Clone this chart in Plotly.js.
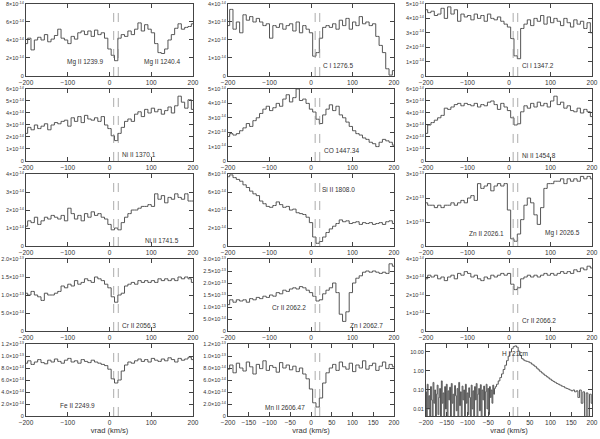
<!DOCTYPE html>
<html><head><meta charset="utf-8">
<script src="https://cdn.plot.ly/plotly-3.0.1.min.js"></script>
<style>html,body{margin:0;padding:0;background:#fff}#chart{width:600px;height:439px}</style>
</head><body><div id="chart"></div>
<script>
// velocity bins (km/s)
const vel = [-200,-192,-184,-176,-168,-160,-152,-144,-136,-128,-120,-112,-104,-96,-88,-80,-72,-64,-56,-48,-40,-32,-24,-16,-8,0,8,16,24,32,40,48,56,64,72,80,88,96,104,112,120,128,136,144,152,160,168,176,184,192,200];

const fluxMgII1239 = [3.6,4.2,2.9,4.0,4.3,4.0,4.6,3.8,4.1,4.5,5.2,4.2,4.0,3.6,4.4,4.1,4.8,5.0,4.6,5.0,4.4,5.1,4.6,4.8,4.2,3.0,2.3,1.7,4.2,4.6,4.4,5.0,4.6,5.2,5.9,5.0,5.7,5.2,4.8,3.6,2.6,2.5,3.0,4.0,4.6,5.3,5.8,5.2,5.4,5.5,5.8];
const fluxCI1276 = [2.8,3.7,2.6,3.0,2.4,3.4,3.1,3.3,3.0,3.2,3.0,2.8,2.9,2.1,2.8,2.7,2.9,2.6,2.8,2.9,2.5,3.0,2.4,2.8,2.6,2.4,1.1,1.3,2.1,2.7,2.8,2.7,2.9,2.6,3.1,2.8,3.2,2.6,3.0,2.8,3.3,2.9,3.0,2.8,2.9,2.2,1.7,1.3,0.4,0.05,0.3];
const fluxClI1347 = [4.6,4.4,4.5,4.2,4.3,4.7,4.0,4.8,4.3,4.6,3.8,4.3,4.1,4.2,3.9,4.3,4.0,4.2,3.8,4.3,4.0,3.9,4.1,3.8,3.6,3.4,2.6,1.4,1.2,3.3,3.6,3.9,3.5,4.0,3.8,4.2,3.6,4.1,3.7,4.0,3.8,3.5,4.0,3.7,3.4,3.9,3.6,3.8,3.3,3.7,3.0];
const fluxNiII1370 = [2.3,2.8,2.6,3.0,2.7,2.9,3.1,2.6,3.0,3.2,3.1,3.3,3.4,2.9,3.6,3.3,3.7,3.2,3.8,3.5,3.4,3.6,3.3,3.7,3.0,2.7,2.1,1.7,2.3,2.8,3.3,3.5,3.3,3.9,4.1,3.7,4.3,4.0,4.4,4.1,4.3,3.9,4.2,4.5,4.0,4.6,5.4,4.9,4.4,5.1,4.3];
const fluxCO1447 = [1.7,1.9,1.8,1.9,2.1,2.3,2.6,2.4,2.8,3.0,3.3,3.6,3.8,3.5,3.7,4.0,3.8,4.3,4.6,4.1,4.4,5.0,4.2,4.3,4.0,3.6,3.4,2.9,2.6,3.2,3.6,3.9,3.5,3.8,3.2,3.0,2.7,2.4,2.1,1.9,1.8,1.6,1.5,1.3,1.2,1.0,1.3,1.5,1.4,1.3,1.1];
const fluxNiII1454 = [2.3,3.0,3.2,3.4,3.6,3.8,4.4,4.3,4.5,4.7,4.8,4.6,4.8,4.7,4.6,4.8,4.5,4.7,4.6,4.9,5.0,4.7,4.3,4.8,4.5,4.2,3.6,3.0,3.1,4.1,4.6,4.4,4.8,4.5,4.9,4.6,4.8,4.5,5.0,5.4,4.7,4.9,4.4,4.6,4.2,4.1,4.4,4.0,4.3,4.1,3.7];
const fluxNiII1741 = [1.1,1.4,1.3,1.6,1.2,1.4,1.6,1.5,1.7,1.6,1.5,1.7,1.4,2.1,1.8,1.5,1.7,1.4,1.8,1.6,1.9,1.7,1.8,1.6,1.5,1.2,0.9,1.0,0.9,1.3,1.6,1.8,2.0,2.0,2.1,2.2,2.2,2.3,2.2,2.9,2.6,2.8,2.4,2.7,2.6,2.9,2.7,2.6,2.9,2.5,2.5];
const fluxSiII1808 = [7.7,7.9,7.6,7.4,7.2,6.8,6.5,6.1,5.8,5.6,5.0,4.7,4.4,4.3,4.5,4.9,4.6,4.3,4.4,4.0,4.1,3.7,3.6,3.5,3.2,2.6,1.0,0.3,0.5,1.0,1.5,1.9,2.2,2.5,2.9,2.7,2.8,2.5,2.6,2.7,2.4,2.6,2.5,2.6,2.4,2.5,2.6,2.4,2.7,2.8,2.5];
const fluxZnII2026 = [1.8,1.7,1.7,1.6,1.7,1.6,1.7,1.7,1.8,1.7,1.8,1.9,1.8,2.0,2.1,1.9,2.6,2.4,2.5,2.6,2.3,2.5,2.6,2.5,2.6,1.5,0.3,0.2,0.5,1.1,1.7,2.0,1.8,1.3,0.9,1.6,2.4,2.6,2.6,2.7,2.7,2.8,2.6,2.8,2.7,2.8,2.7,2.9,2.8,2.9,2.8];
const fluxCrII2056 = [1.05,1.0,1.1,1.0,0.95,0.85,1.05,1.0,1.0,1.05,1.1,1.25,1.2,1.3,1.25,1.4,1.3,1.35,1.45,1.4,1.35,1.5,1.45,1.4,1.3,1.2,0.95,0.8,1.0,1.05,1.25,1.3,1.35,1.3,1.4,1.35,1.4,1.35,1.4,1.35,1.45,1.4,1.45,1.4,1.45,1.4,1.5,1.45,1.5,1.45,1.35];
const fluxCrII2062 = [1.1,1.3,1.2,1.3,1.25,1.3,1.2,1.35,1.3,1.4,1.35,1.45,1.4,1.5,1.45,1.6,1.55,1.7,1.65,1.75,1.8,1.75,1.85,1.8,1.7,1.6,1.45,1.25,1.3,1.55,1.7,1.8,2.0,1.6,0.7,0.4,0.8,1.6,2.0,2.2,2.3,2.45,2.5,2.45,2.5,2.45,2.4,2.45,2.4,2.8,2.7];
const fluxCrII2066 = [2.9,3.1,3.0,3.1,2.9,3.0,2.8,3.0,3.1,2.9,3.2,3.1,3.3,3.2,3.0,3.1,2.9,2.8,3.0,2.9,3.1,3.0,3.1,3.2,3.1,3.2,2.6,2.3,2.4,2.9,3.0,3.1,3.0,3.1,3.0,3.1,3.2,3.1,3.2,3.1,3.2,3.3,3.2,3.3,3.2,3.4,3.3,3.5,3.4,3.6,3.5];
const fluxFeII2249 = [0.88,0.92,0.86,0.90,0.94,0.89,0.87,0.93,0.90,0.95,0.91,0.88,0.93,0.96,0.90,0.92,0.88,0.94,0.91,0.89,0.93,0.90,0.88,0.86,0.84,0.78,0.62,0.55,0.60,0.75,0.85,0.90,0.88,0.92,0.95,0.91,0.94,0.90,0.96,0.93,0.91,0.95,0.92,0.97,0.94,0.90,0.96,0.93,0.95,0.98,0.94];
const fluxMnII2606 = [0.78,0.85,0.72,0.88,0.80,0.75,0.90,0.82,0.70,0.86,0.79,0.92,0.76,0.84,0.81,0.73,0.89,0.80,0.85,0.77,0.83,0.74,0.80,0.70,0.62,0.45,0.22,0.15,0.30,0.55,0.72,0.80,0.86,0.76,0.90,0.82,0.78,0.88,0.74,0.85,0.80,0.92,0.78,0.84,0.88,0.76,0.83,0.90,0.79,0.86,0.82];

// H I 21cm profile (2 km/s in the noisy wing, 4 km/s elsewhere)
const velHI = [-200,-198,-196,-194,-192,-190,-188,-186,-184,-182,
  -180,-178,-176,-174,-172,-170,-168,-166,-164,-162,
  -160,-158,-156,-154,-152,-150,-148,-146,-144,-142,
  -140,-138,-136,-134,-132,-130,-128,-126,-124,-122,
  -120,-118,-116,-114,-112,-110,-108,-106,-104,-102,
  -100,-98,-96,-94,-92,-90,-88,-86,-84,-82,
  -80,-78,-76,-74,-72,-70,-68,-66,-64,-62,
  -60,-58,-56,-54,-52,-50,-48,-46,-44,-42,
  -40,-38,-36,-34,-32,
  -28,-24,-20,-16,-12,-8,-4,0,4,8,12,16,20,24,28,32,36,40,44,48,52,56,60,64,68,72,76,80,84,88,92,96,100,104,108,112,116,120,124,128,132,136,140,144,148,152,156,160,164,168,172,176,180,184,188,192,196,200];
const tbHI = [0.08,0.003,0.2,0.01,0.05,0.003,0.15,0.03,0.004,0.25,0.02,0.1,0.003,0.06,0.18,0.005,0.04,0.12,0.003,0.3,
  0.02,0.07,0.004,0.15,0.01,0.2,0.003,0.09,0.03,0.14,0.004,0.22,0.02,0.06,0.003,0.17,0.05,0.008,0.12,0.003,
  0.25,0.015,0.08,0.004,0.16,0.03,0.1,0.003,0.2,0.02,0.07,0.005,0.13,0.04,0.003,0.18,0.01,0.09,0.004,0.15,
  0.03,0.22,0.003,0.06,0.12,0.008,0.19,0.004,0.1,0.03,0.16,0.003,0.08,0.2,0.01,0.12,0.005,0.15,0.04,0.1,
  0.02,0.18,0.06,0.12,0.15,
  0.2,0.3,0.45,0.7,1.2,2.0,3.5,6.0,
  10,15,19,21,18,11,6.5,4.5,3.8,3.4,3.2,3.0,2.7,2.3,2.0,1.7,1.4,1.15,0.95,0.8,0.68,0.58,0.5,0.43,0.37,0.32,0.28,0.25,0.22,0.2,0.18,0.16,0.15,0.13,0.12,0.11,0.1,0.09,0.1,0.08,0.09,0.04,0.1,0.02,0.08,0.004,0.07,0.003,0.06,0.02];

// component velocities marked by dashed lines
const compVel = [10, 21];

// tick labels
const tick8 = ['0','2×10<sup>-14</sup>','4×10<sup>-14</sup>','6×10<sup>-14</sup>','8×10<sup>-14</sup>'];
const tick4 = ['0','1×10<sup>-14</sup>','2×10<sup>-14</sup>','3×10<sup>-14</sup>','4×10<sup>-14</sup>'];
const tick5 = ['0','1×10<sup>-14</sup>','2×10<sup>-14</sup>','3×10<sup>-14</sup>','4×10<sup>-14</sup>','5×10<sup>-14</sup>'];
const tick6 = ['0','1×10<sup>-14</sup>','2×10<sup>-14</sup>','3×10<sup>-14</sup>','4×10<sup>-14</sup>','5×10<sup>-14</sup>','6×10<sup>-14</sup>'];
const tick3 = ['0','1×10<sup>-13</sup>','2×10<sup>-13</sup>','3×10<sup>-13</sup>'];
const tick2h = ['0','5.0×10<sup>-14</sup>','1.0×10<sup>-13</sup>','1.5×10<sup>-13</sup>','2.0×10<sup>-13</sup>'];
const tick3h = ['0','5.0×10<sup>-14</sup>','1.0×10<sup>-13</sup>','1.5×10<sup>-13</sup>','2.0×10<sup>-13</sup>','2.5×10<sup>-13</sup>','3.0×10<sup>-13</sup>'];
const tick12 = ['0','2.0×10<sup>-14</sup>','4.0×10<sup>-14</sup>','6.0×10<sup>-14</sup>','8.0×10<sup>-14</sup>','1.0×10<sup>-13</sup>','1.2×10<sup>-13</sup>'];
const tickHI = ['0.01','0.10','1.00','10.00'];

const S = '\u00a0';
const panels = [
  {y: fluxMgII1239, range:[0,8], tv:[0,2,4,6,8], tt:tick8, lab:[['Mg'+S+'II'+S+'1239.9',-106,1.55],['Mg'+S+'II'+S+'1240.4',78,1.55]]},
  {y: fluxCI1276, range:[0,4], tv:[0,1,2,3,4], tt:tick4, lab:[['C'+S+'I'+S+'1276.5',24,0.61]]},
  {y: fluxClI1347, range:[0,5], tv:[0,1,2,3,4,5], tt:tick5, lab:[['Cl'+S+'I'+S+'1347.2',27,0.72]]},
  {y: fluxNiII1370, range:[0,6], tv:[0,1,2,3,4,5,6], tt:tick6, lab:[['Ni'+S+'II'+S+'1370.1',25,0.5]]},
  {y: fluxCO1447, range:[0,5], tv:[0,1,2,3,4,5], tt:tick5, lab:[['CO'+S+'1447.34',27,0.72]]},
  {y: fluxNiII1454, range:[0,6], tv:[0,1,2,3,4,5,6], tt:tick6, lab:[['Ni'+S+'II'+S+'1454.8',27,0.42]]},
  {y: fluxNiII1741, range:[0,4], tv:[0,1,2,3,4], tt:tick4, lab:[['Ni'+S+'II'+S+'1741.5',80,0.33]]},
  {y: fluxSiII1808, range:[0,8], tv:[0,2,4,6,8], tt:tick8, lab:[['Si'+S+'II'+S+'1808.0',22,6.33]]},
  {y: fluxZnII2026, range:[0,3], tv:[0,1,2,3], tt:tick3, lab:[['Zn'+S+'II'+S+'2026.1',-101,0.54],['Mg'+S+'I'+S+'2026.5',82,0.54]]},
  {y: fluxCrII2056, range:[0,2], tv:[0,0.5,1,1.5,2], tt:tick2h, lab:[['Cr'+S+'II'+S+'2056.3',25,0.15]]},
  {y: fluxCrII2062, range:[0,3], tv:[0,0.5,1,1.5,2,2.5,3], tt:tick3h, lab:[['Cr'+S+'II'+S+'2062.2',-99,0.96],['Zn'+S+'I'+S+'2062.7',89,0.25]]},
  {y: fluxCrII2066, range:[0,4], tv:[0,1,2,3,4], tt:tick4, lab:[['Cr'+S+'II'+S+'2066.2',26,0.61]]},
  {y: fluxFeII2249, range:[0,1.2], tv:[0,0.2,0.4,0.6,0.8,1.0,1.2], tt:tick12, lab:[['Fe'+S+'II'+S+'2249.9',-123,0.18]]},
  {y: fluxMnII2606, range:[0,1.2], tv:[0,0.2,0.4,0.6,0.8,1.0,1.2], tt:tick12, lab:[['Mn'+S+'II'+S+'2606.47',-116,0.15]]},
  {x: velHI, y: tbHI, log:true, range:[-2.37,1.42], tv:[0.01,0.1,1,10], tt:tickHI, lab:[['H'+S+'I'+S+'21cm',-22,8]]}
];

const colDomains = [[0.0433,0.3217],[0.38,0.6567],[0.71,0.9867]];
const rowDomains = [[0.8269,0.9909],[0.6333,0.7973],[0.4396,0.6036],[0.246,0.41],[0.0524,0.2164]];

const FONT = 'Liberation Sans, Arial, sans-serif';
const data = [], annotations = [], shapes = [];
const layout = {
  width:600, height:439, margin:{l:0,r:0,t:0,b:0},
  paper_bgcolor:'#fff', plot_bgcolor:'#fff', showlegend:false,
  font:{family:FONT, color:'#333', size:7}
};
const axCol = '#444';
panels.forEach((p, i) => {
  const n = i + 1, sfx = i === 0 ? '' : String(n);
  const row = Math.floor(i / 3), col = i % 3;
  data.push({x: p.x || vel, y: p.y, type:'scatter', mode:'lines',
    line:{shape:'hvh', color:'#555', width:1}, xaxis:'x'+sfx, yaxis:'y'+sfx, hoverinfo:'skip'});
  const wide = (i >= 13);
  layout['xaxis'+sfx] = {domain: colDomains[col], range:[-200,200], anchor:'y'+sfx,
    tickvals: wide ? [-200,-150,-100,-50,0,50,100,150,200] : [-200,-100,0,100,200],
    ticks:'inside', ticklen:4, tickcolor:axCol, mirror:'ticks', showline:true, linecolor:axCol, linewidth:1,
    showgrid:false, zeroline:false, tickfont:{size:6.5, color:'#333', family:FONT},
    title: row === 4 ? {text:'vrad (km/s)', font:{size:7.5, color:'#333', family:FONT}, standoff:2} : undefined};
  layout['yaxis'+sfx] = {domain: rowDomains[row], anchor:'x'+sfx,
    type: p.log ? 'log' : 'linear', range: p.range, tickvals: p.tv, ticktext: p.tt,
    ticks:'inside', ticklen:4, tickcolor:axCol, mirror:'ticks', showline:true, linecolor:axCol, linewidth:1,
    showgrid:false, zeroline:false, tickfont:{size:5.5, color:'#333', family:FONT}};
  compVel.forEach(v => shapes.push({type:'line', xref:'x'+sfx, yref:'y'+sfx+' domain', x0:v, x1:v, y0:0, y1:1,
    line:{color:'#888', width:0.7, dash:'dash'}}));
  p.lab.forEach(l => annotations.push({text:l[0], x:l[1], y: p.log ? Math.log10(l[2]) : l[2],
    xref:'x'+sfx, yref:'y'+sfx, xanchor:'left', yanchor:'middle', showarrow:false,
    font:{size:6.5, color:'#333', family:FONT}}));
});
layout.shapes = shapes;
layout.annotations = annotations;
Plotly.newPlot('chart', data, layout, {staticPlot:true});
</script></body></html>
